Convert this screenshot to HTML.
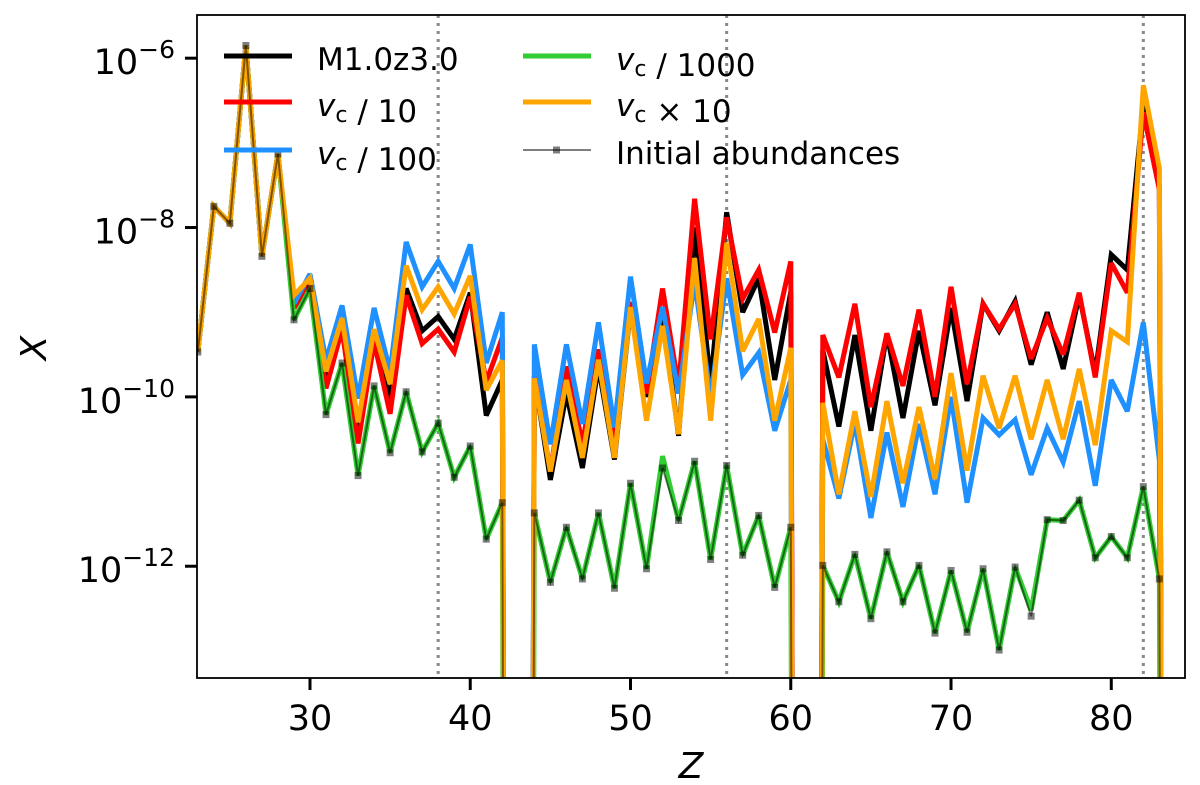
<!DOCTYPE html>
<html><head><meta charset="utf-8">
<style>
html,body{margin:0;padding:0;background:#fff;overflow:hidden;width:1200px;height:785px;}
svg{display:block;font-family:"DejaVu Sans","Liberation Sans",sans-serif;}
</style></head>
<body>
<svg id="chart" width="1200" height="785" viewBox="0 0 1200 785" xmlns="http://www.w3.org/2000/svg">
<defs><clipPath id="plotclip"><rect x="197" y="15" width="988" height="663"/></clipPath></defs>
<rect x="0" y="0" width="1200" height="785" fill="#fff"/>
<g id="marks" clip-path="url(#plotclip)"></g>
<g id="axes"></g>
<g id="legend"></g>
</svg>
<script>
// Data: log10 of mass fraction X per element Z (Z=23..84). -300 denotes zero abundance.
const zValues = [];
for (let z = 23; z <= 84; z++) zValues.push(z);
const initialLog = [-9.47,-7.75,-7.95,-5.85,-8.34,-7.13,-9.09,-8.72,-10.21,-9.60,-10.93,-9.87,-10.66,-9.94,-10.65,-10.31,-10.95,-10.58,-11.68,-11.25,
 -300,-11.37,-12.19,-11.54,-12.15,-11.37,-12.26,-11.02,-12.03,-10.84,-11.46,-10.76,-11.92,-10.81,-11.87,-11.40,-12.25,-11.54,
 -300,-11.99,-12.42,-11.86,-12.62,-11.83,-12.42,-11.99,-12.79,-12.05,-12.78,-12.03,-12.99,-12.01,-12.59,-11.45,-11.46,-11.22,-11.90,-11.65,-11.90,-11.06,-12.15,-300];
const greenLog = [-9.47,-7.75,-7.95,-5.85,-8.34,-7.13,-9.09,-8.72,-10.21,-9.60,-10.93,-9.87,-10.66,-9.94,-10.65,-10.31,-10.95,-10.58,-11.68,-11.25,
 -300,-11.37,-12.19,-11.54,-12.15,-11.37,-12.26,-11.02,-12.03,-10.70,-11.46,-10.76,-11.92,-10.81,-11.87,-11.40,-12.25,-11.54,
 -300,-11.99,-12.42,-11.86,-12.62,-11.83,-12.42,-11.99,-12.79,-12.05,-12.78,-12.03,-12.99,-12.01,-12.52,-11.45,-11.46,-11.22,-11.90,-11.65,-11.90,-11.06,-12.15,-300];
const blackLog = [-9.47,-7.75,-7.95,-5.85,-8.34,-7.13,-8.95,-8.62,-9.77,-9.10,-10.37,-9.30,-10.02,-8.72,-9.22,-9.05,-9.32,-8.77,-10.22,-9.80,
 -300,-9.76,-10.98,-9.96,-10.84,-9.64,-10.74,-8.96,-10.00,-9.00,-10.46,-8.00,-9.84,-7.82,-9.00,-8.60,-9.80,-8.76,
 -300,-9.45,-10.35,-9.27,-10.40,-9.25,-10.25,-9.22,-10.10,-8.95,-10.05,-8.90,-9.22,-8.87,-9.62,-9.00,-9.67,-8.80,-9.72,-8.32,-8.50,-6.54,-7.50,-300];
const redLog = [-9.47,-7.75,-7.95,-5.85,-8.34,-7.13,-8.95,-8.62,-9.90,-9.20,-10.55,-9.35,-10.20,-8.80,-9.37,-9.20,-9.47,-8.82,-9.82,-9.30,
 -300,-9.76,-10.88,-9.64,-10.56,-9.44,-10.52,-8.88,-9.96,-8.72,-9.88,-7.66,-9.32,-7.88,-8.84,-8.50,-9.24,-8.40,
 -300,-9.27,-9.77,-8.90,-10.12,-9.25,-9.87,-8.97,-10.00,-8.70,-9.85,-8.90,-9.20,-8.90,-9.55,-9.07,-9.50,-8.77,-9.77,-8.42,-8.77,-6.64,-7.55,-300];
const blueLog = [-9.47,-7.75,-7.95,-5.85,-8.34,-7.13,-8.90,-8.55,-9.57,-8.92,-10.02,-8.95,-9.70,-8.17,-8.70,-8.40,-8.72,-8.20,-9.60,-9.00,
 -300,-9.38,-10.56,-9.38,-10.32,-9.12,-10.36,-8.58,-9.84,-8.94,-9.96,-8.64,-10.00,-8.60,-9.74,-9.48,-10.40,-9.80,
 -300,-10.50,-11.20,-10.30,-11.43,-10.42,-11.30,-10.32,-11.15,-10.00,-11.25,-10.25,-10.45,-10.27,-10.92,-10.37,-10.77,-10.05,-11.05,-9.80,-10.17,-9.12,-10.75,-300];
const orangeLog = [-9.47,-7.75,-7.95,-5.85,-8.34,-7.13,-8.80,-8.60,-9.70,-9.07,-10.30,-9.20,-9.85,-8.45,-8.97,-8.70,-9.02,-8.57,-9.92,-9.57,
 -300,-9.78,-10.88,-9.80,-10.72,-9.56,-10.72,-8.94,-10.28,-9.16,-10.44,-8.36,-10.28,-8.18,-9.46,-9.08,-10.28,-9.42,
 -300,-10.07,-11.15,-10.17,-11.18,-10.05,-11.02,-10.12,-10.97,-9.72,-10.87,-9.75,-10.37,-9.75,-10.50,-9.80,-10.50,-9.67,-10.57,-9.22,-9.35,-6.32,-7.30,-300];
const xTicks = [30,40,50,60,70,80];
const yTickExps = [-6,-8,-10,-12];
const magicLines = [38,56,82];

const NS = "http://www.w3.org/2000/svg";
const X0 = 197, X1 = 1185, Y0 = 15, Y1 = 678;
const zMin = 22.95, zMax = 84.6;
const lMin = -13.32, lMax = -5.49;
function xs(z){ return X0 + (z - zMin) / (zMax - zMin) * (X1 - X0); }
function ys(l){ return Y1 - (l - lMin) / (lMax - lMin) * (Y1 - Y0); }
function mk(tag, attrs, parent){ const e = document.createElementNS(NS, tag); for (const k in attrs) e.setAttribute(k, attrs[k]); parent.appendChild(e); return e; }

const marks = document.getElementById('marks');
const axes = document.getElementById('axes');
const legend = document.getElementById('legend');

magicLines.forEach(z => {
  const l = mk('line', {x1: xs(z), x2: xs(z), y1: Y0, y2: Y1, stroke: '#888', 'stroke-width': 3, 'stroke-dasharray': '3,5'}, marks);
  
  
});

function pathFor(arr){
  let d = '';
  arr.forEach((v, i) => { const y = Math.min(ys(v), 5000); d += (i ? 'L' : 'M') + xs(zValues[i]).toFixed(2) + ',' + y.toFixed(2); });
  return d;
}
const series = [
  {arr: blackLog, color: '#000000', name: 'series-m1-0z3-0'},
  {arr: redLog, color: '#ff0000', name: 'series-vc-div-10'},
  {arr: blueLog, color: '#1e90ff', name: 'series-vc-div-100'},
  {arr: greenLog, color: '#32cd32', name: 'series-vc-div-1000'},
  {arr: orangeLog, color: '#ffa500', name: 'series-vc-times-10'}
];
series.forEach(s => {
  const p = mk('path', {d: pathFor(s.arr), fill: 'none', stroke: s.color, 'stroke-width': 5, 'stroke-linejoin': 'miter', 'stroke-miterlimit': 3}, marks);
  
  
});
const ip = mk('path', {d: pathFor(initialLog), fill: 'none', stroke: '#000', 'stroke-opacity': 0.5, 'stroke-width': 2}, marks);


initialLog.forEach((v, i) => {
  if (v < -100) return;
  const r = mk('rect', {x: xs(zValues[i]) - 3.5, y: ys(v) - 3.5, width: 7, height: 7, fill: '#000', 'fill-opacity': 0.5}, marks);
  
  
});

// frame
const fr = mk('rect', {x: X0, y: Y0, width: X1 - X0, height: Y1 - Y0, fill: 'none', stroke: '#000', 'stroke-width': 1.8}, axes);


xTicks.forEach(t => {
  const x = xs(t);
  const tk = mk('line', {x1: x, x2: x, y1: Y1, y2: Y1 + 12, stroke: '#000', 'stroke-width': 3}, axes);
  
  
  const tx = mk('text', {x: x, y: 730, 'text-anchor': 'middle', 'font-size': 35, fill: '#000'}, axes);
  tx.textContent = t;
  
  
});
yTickExps.forEach(e => {
  const y = ys(e);
  const tk = mk('line', {x1: X0 - 12, x2: X0, y1: y, y2: y, stroke: '#000', 'stroke-width': 3}, axes);
  
  
  const tx = mk('text', {x: 175, y: y + 16, 'text-anchor': 'end', 'font-size': 35, fill: '#000'}, axes);
  
  
  const base = document.createElementNS(NS, 'tspan'); base.textContent = '10'; tx.appendChild(base);
  const sup = document.createElementNS(NS, 'tspan'); sup.setAttribute('dy', -16); sup.setAttribute('font-size', 25); sup.textContent = '\u2212' + Math.abs(e); tx.appendChild(sup);
});
const xl = mk('text', {x: 691, y: 778, 'text-anchor': 'middle', 'font-size': 36, 'font-style': 'italic', fill: '#000'}, axes);
xl.textContent = 'Z';


const yl = mk('text', {x: 0, y: 0, 'text-anchor': 'middle', 'font-size': 36, 'font-style': 'italic', fill: '#000', transform: 'translate(46,348) rotate(-90)'}, axes);
yl.textContent = 'X';



// legend
const legItems = [
  {c: '#000000', lx: 224, ty: 56, label: [['M1.0z3.0', false]], name: 'legend-entry-m1-0z3-0'},
  {c: '#ff0000', lx: 224, ty: 102, label: [['v', true], ['c', 'sub'], [' / 10', false]], name: 'legend-entry-vc-div-10'},
  {c: '#1e90ff', lx: 224, ty: 150, label: [['v', true], ['c', 'sub'], [' / 100', false]], name: 'legend-entry-vc-div-100'},
  {c: '#32cd32', lx: 523, ty: 56, label: [['v', true], ['c', 'sub'], [' / 1000', false]], name: 'legend-entry-vc-div-1000'},
  {c: '#ffa500', lx: 523, ty: 102, label: [['v', true], ['c', 'sub'], [' \u00d7 10', false]], name: 'legend-entry-vc-times-10'},
  {c: 'init', lx: 523, ty: 150, label: [['Initial abundances', false]], name: 'legend-entry-initial-abundances'}
];
legItems.forEach(it => {
  const g = mk('g', {}, legend);
  
  
  if (it.c === 'init') {
    mk('line', {x1: it.lx, x2: it.lx + 68, y1: it.ty, y2: it.ty, stroke: '#000', 'stroke-opacity': 0.5, 'stroke-width': 2}, g);
    mk('rect', {x: it.lx + 30, y: it.ty - 3.5, width: 7, height: 7, fill: '#000', 'fill-opacity': 0.5}, g);
  } else {
    mk('line', {x1: it.lx, x2: it.lx + 68, y1: it.ty, y2: it.ty, stroke: it.c, 'stroke-width': 5}, g);
  }
  const t = mk('text', {x: it.lx + 93, y: it.ty + 14, 'font-size': 31, fill: '#000'}, g);
  it.label.forEach(p => {
    const sp = document.createElementNS(NS, 'tspan');
    sp.textContent = p[0];
    if (p[1] === true) sp.setAttribute('font-style', 'italic');
    if (p[1] === 'sub') { sp.setAttribute('font-size', 22); sp.setAttribute('dy', 6); }
    t.appendChild(sp);
    if (p[1] === 'sub') { const r = document.createElementNS(NS, 'tspan'); r.setAttribute('dy', -6); t.appendChild(r); }
  });
});
</script>
</body></html>
